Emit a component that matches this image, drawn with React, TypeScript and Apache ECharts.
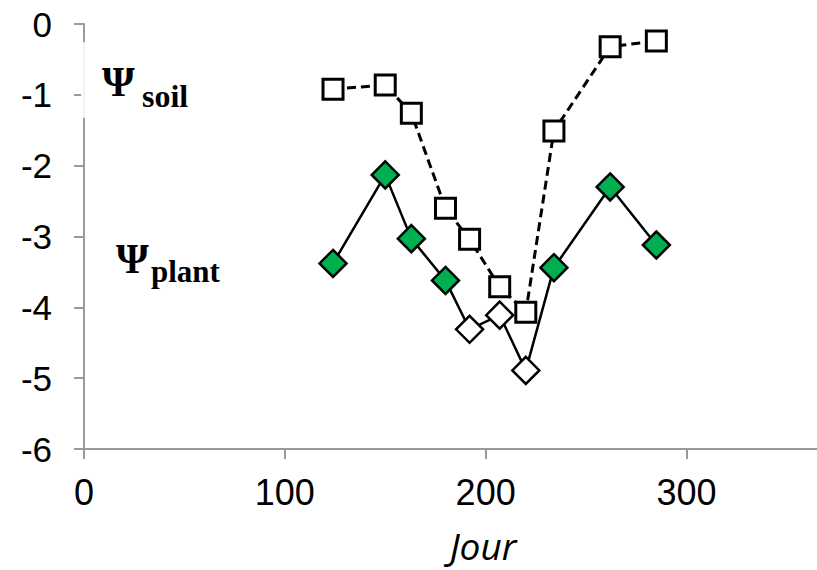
import React, { useEffect, useRef } from "react";
import * as echarts from "echarts";

const days = [124, 150, 163, 180, 192, 207, 220, 234, 262, 285];
const psiSoil = [-0.92, -0.86, -1.26, -2.6, -3.04, -3.71, -4.07, -1.51, -0.32, -0.24];
const psiPlant = [-3.38, -2.13, -3.03, -3.62, -4.31, -4.11, -4.89, -3.44, -2.3, -3.12];
const plantFilled = [true, true, true, true, false, false, false, true, true, true];
const xTicks = [0, 100, 200, 300];

export default function App() {
  const ref = useRef<HTMLDivElement>(null);
  useEffect(() => {
    if (!ref.current) return;
    const chart = echarts.init(ref.current, null, { renderer: "svg" });
    const axisColor = "#9a9a9a";
    chart.setOption({
      animation: false,
      backgroundColor: "#fff",
      grid: { left: 84, right: 0, top: 24, bottom: 121, containLabel: false },
      xAxis: {
        type: "value",
        min: 0,
        max: 365,
        interval: 100,
        axisLine: { onZero: false, lineStyle: { color: axisColor, width: 2 } },
        axisTick: { show: true, inside: false, length: 10, lineStyle: { color: axisColor, width: 2 }, customValues: xTicks },
        axisLabel: { customValues: xTicks, margin: 25, fontSize: 36, color: "#000", fontFamily: "Liberation Sans, Arial" },
        splitLine: { show: false },
      },
      yAxis: {
        type: "value",
        min: -6,
        max: 0,
        interval: 1,
        axisLine: { show: true, lineStyle: { color: axisColor, width: 2 } },
        axisTick: { show: true, inside: false, length: 10, lineStyle: { color: axisColor, width: 2 } },
        axisLabel: { margin: 32, fontSize: 35, color: "#000", fontFamily: "Liberation Sans, Arial" },
        splitLine: { show: false },
      },
      graphic: [
        { type: "rect", z: 100, shape: { x: 81, y: 42, width: 8, height: 76 }, style: { fill: "rgba(255,255,255,0.88)" } },
        { type: "text", z: 101, x: 102, y: 82, style: { text: "Ψ", font: "bold 42px 'Liberation Serif'", fill: "#000", verticalAlign: "middle", align: "left" } },
        { type: "text", z: 101, x: 142, y: 96, style: { text: "soil", font: "bold 32px 'Liberation Serif'", fill: "#000", verticalAlign: "middle", align: "left" } },
        { type: "text", z: 101, x: 116, y: 259, style: { text: "Ψ", font: "bold 42px 'Liberation Serif'", fill: "#000", verticalAlign: "middle", align: "left" } },
        { type: "text", z: 101, x: 151, y: 271, style: { text: "plant", font: "bold 31px 'Liberation Serif'", fill: "#000", verticalAlign: "middle", align: "left" } },
        { type: "text", z: 101, x: 483, y: 545, style: { text: "Jour", font: "italic 37px 'Open Sans'", fill: "#000", verticalAlign: "middle", align: "center" } },
      ],
      series: [
        {
          type: "line",
          name: "plant",
          z: 2,
          data: days.map((d, i) => ({
            value: [d, psiPlant[i]],
            itemStyle: { color: plantFilled[i] ? "#00B050" : "#ffffff" },
          })),
          symbol: "diamond",
          symbolSize: 27,
          lineStyle: { color: "#000", width: 2.5, type: "solid" },
          itemStyle: { borderColor: "#000", borderWidth: 2.5, opacity: 1 },
        },
        {
          type: "line",
          name: "soil",
          z: 3,
          data: days.map((d, i) => [d, psiSoil[i]]),
          symbol: "rect",
          symbolSize: 20,
          lineStyle: { color: "#000", width: 3, type: [9, 5] },
          itemStyle: { color: "#ffffff", borderColor: "#000", borderWidth: 3, opacity: 1 },
        },
      ],
    });
    return () => chart.dispose();
  }, []);
  return <div ref={ref} style={{ width: 817, height: 570, position: "absolute", left: 0, top: 0 }} />;
}
